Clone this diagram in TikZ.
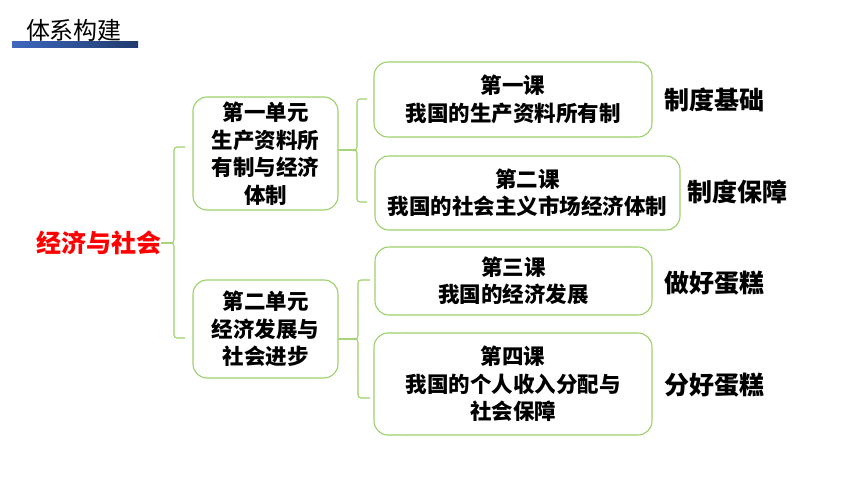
\documentclass[tikz,border=0pt]{standalone}
\usepackage{fontspec}
\setmainfont{Noto Sans CJK SC}
\definecolor{gr}{HTML}{9CCF6A}
\definecolor{barL}{HTML}{3F68BD}
\definecolor{barR}{HTML}{1F3A6E}
\begin{document}
\begin{tikzpicture}[x=1pt,y=-1pt,
  box/.style={draw=gr,line width=1.1pt,rounded corners=14pt,inner sep=0pt,align=center,font=\bfseries\fontsize{21.5}{27.5}\selectfont},
  lab/.style={inner sep=0pt,font=\bfseries\fontsize{25}{30}\selectfont},
  br/.style={draw=gr,line width=1.1pt,rounded corners=3pt}]
\useasboundingbox (0,0) rectangle (860,484);
% title
\node[inner sep=0pt,font=\fontsize{24}{28}\selectfont] (title) at (74,30) {体系构建};
\shade[left color=barL,right color=barR] (12,42) rectangle (138,48);
% main
\node[inner sep=0pt,text=red,font=\bfseries\fontsize{25}{30}\selectfont] (main) at (98.5,243) {经济与社会};
% units
\node[box,minimum width=145pt,minimum height=113pt] (u1) at (265.5,153.5) {第一单元\\生产资料所\\有制与经济\\体制};
\node[box,minimum width=145pt,minimum height=98pt] (u2) at (265.5,329) {第二单元\\经济发展与\\社会进步};
% lessons
\node[box,minimum width=278pt,minimum height=75pt] (l1) at (513,99.5) {第一课\\我国的生产资料所有制};
\node[box,minimum width=305pt,minimum height=74pt] (l2) at (527.5,193) {第二课\\我国的社会主义市场经济体制};
\node[box,minimum width=277pt,minimum height=68pt] (l3) at (513.5,281) {第三课\\我国的经济发展};
\node[box,minimum width=278pt,minimum height=102pt] (l4) at (513,384) {第四课\\我国的个人收入分配与\\社会保障};
% right labels
\node[lab] (r1) at (714,100) {制度基础};
\node[lab] (r2) at (737.5,192) {制度保障};
\node[lab] (r3) at (714,283) {做好蛋糕};
\node[lab] (r4) at (714,385) {分好蛋糕};
% brace main
\coordinate (m0) at (main.east);
\coordinate (a1) at (185,147);
\coordinate (a2) at (185,338);
\path[br] (a1) -- (174,147) -- (174,243) -- (m0);
\path[br] (a2) -- (174,338) -- (174,243) -- (m0);
% brace unit 1
\coordinate (c1) at (u1.east |- 0,150);
\coordinate (t1) at (367,99);
\coordinate (t2) at (367,202);
\path[br] (t1) -- (357,99) -- (357,150) -- (c1);
\path[br] (t2) -- (357,202) -- (357,150) -- (c1);
% brace unit 2
\coordinate (c2) at (u2.east |- 0,339);
\coordinate (t3) at (370,280);
\coordinate (t4) at (370,398);
\path[br] (t3) -- (358,280) -- (358,339) -- (c2);
\path[br] (t4) -- (358,398) -- (358,339) -- (c2);
\end{tikzpicture}
\end{document}
